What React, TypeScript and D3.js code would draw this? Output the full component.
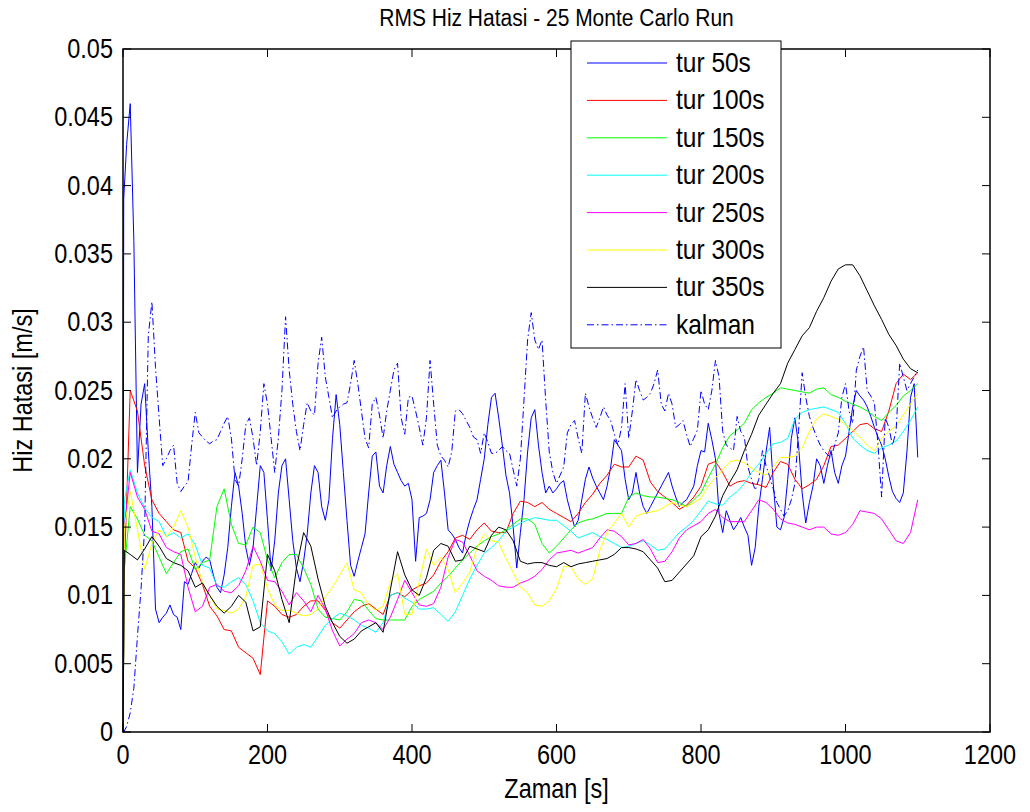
import React from 'react';
import * as d3 from 'd3';

// time grids (seconds)
const T_COARSE: number[] = [0, 2, ...d3.range(10, 1101, 10)];
const T_FINE: number[] = [0, 1, ...d3.range(5, 1101, 5)];

// values in units of 1e-3 m/s (converted below)
const tur50 = [0, 39,
  43, 46, 36, 19, 24, 25.5, 20.6, 16.5, 9, 8,
  8.4, 8.7, 9.3, 8.6, 8.4, 7.5, 11, 10.8, 11.6, 12.4,
  12, 12.5, 12.8, 12.6, 11.5, 10.6, 10.2, 11.5, 13.5, 16.5,
  19, 18, 16, 13.5, 12.2, 13.5, 16.5, 19.5, 19, 15.5,
  11.8, 14, 17.5, 19.5, 20, 17, 14, 12, 11, 12.5,
  14.5, 17.5, 19.5, 19, 16.5, 15.5, 17, 21.5, 24.7, 22.5,
  19, 15.5, 12.2, 11.4, 12.5, 13.5, 14.5, 17.5, 20.2, 20.5,
  18, 17.5, 19.5, 20.9, 19.6, 19, 18.4, 18, 18.2, 17,
  12.5, 15.7, 15.8, 16, 17, 19, 19.5, 19.9, 17.5, 14.8,
  14.5, 14.1, 13.5, 13.1, 14.5, 15.5, 16.3, 17, 18.5, 20,
  22.5, 24.5, 24.8, 23, 21, 18.8, 17.5, 15, 12, 14.6,
  17, 20.5, 23, 23.6, 21, 19, 17.5, 18, 17.5, 17.8,
  18.2, 18.4, 17, 16, 15, 15.5, 17, 18.5, 19.4, 18.6,
  18, 17.5, 17, 18, 19.4, 21.4, 21, 20.6, 18.5, 17,
  17.5, 19, 17.5, 16.5, 16, 16.5, 17, 17.5, 18, 18.5,
  19, 18, 17.2, 16.5, 16.8, 17, 17.5, 18, 19.5, 20.6,
  20.5, 22.6, 21.4, 20, 16, 14.6, 16.2, 15.5, 14.8, 15.2,
  15.7, 15, 14.4, 12.2, 13.5, 16.5, 18.5, 20.5, 22.3, 18.2,
  15, 14.8, 15.7, 18.5, 21.5, 23, 21, 17.5, 15.3, 16.8,
  18, 20, 19.5, 18.2, 19.5, 20.6, 19, 18.2, 19.5, 20.2,
  22, 23.8, 25, 24.6, 24.3, 23.8, 23.1, 22.3, 21.6, 21,
  20, 18.7, 17.6, 17.1, 16.8, 17.5, 20.5, 24.5, 25.5, 20.1];

const tur100 = [0, 12,
  25, 23.5, 19.5, 17, 16, 15.4, 14.8, 14.6, 12.5, 12,
  10.8, 9.2, 8.5, 7.5, 7.4, 6.2, 5.8, 5.4, 4.2, 9.6,
  9.2, 8.6, 8.4, 8.6, 9.2, 9.6, 9.6, 8.9, 8.0, 7.6,
  8.2, 8.8, 9.2, 9.4, 9.0, 8.6, 10.0, 10.2, 9.9, 10.4,
  10.7, 10.9, 11.5, 12.5, 13.2, 14.2, 14.4, 14.1, 14.8, 15.3,
  14.7, 14.6, 14.6, 16.0, 16.9, 16.8, 16.5, 16.8, 16.3, 16.0,
  15.7, 15.4, 16.0, 16.8, 17.4, 18.2, 18.8, 19.6, 19.4, 19.4,
  20.2, 19.9, 18.3, 17.6, 17.2, 16.8, 16.3, 16.6, 17.2, 18.0,
  19.6, 19.8, 19.0, 18.0, 18.3, 18.4, 18.2, 18.1, 17.9, 19.0,
  19.8, 19.6, 18.5, 17.8, 18.1, 18.5, 19.5, 20.9, 21.0, 21.5,
  22.0, 22.5, 22.6, 22.2, 22.0, 23.5, 25.5, 26.2, 25.8, 26.3];

const tur150 = [0, 12,
  16.5, 15.6, 14.4, 14.0, 12.8, 11.6, 12.4, 13.2, 13.4, 11.9,
  12.4, 12.6, 16.5, 17.8, 15.2, 13.8, 13.7, 15.0, 14.6, 12.6,
  11.3, 12.4, 13.0, 13.0, 12.0, 10.8, 9.0, 8.4, 8.3, 8.2,
  8.8, 9.7, 9.6, 8.9, 8.3, 8.2, 8.2, 8.2, 8.2, 9.2,
  9.7, 10.0, 10.3, 10.9, 11.4, 12.0, 12.6, 13.1, 13.6, 14.0,
  14.3, 14.5, 14.8, 15.2, 15.6, 15.6, 15.2, 13.8, 13.1, 13.6,
  14.2, 14.8, 15.3, 15.5, 15.6, 15.8, 16.0, 16.0, 16.0, 17.2,
  17.5, 17.3, 17.2, 17.2, 17.1, 17.0, 16.8, 16.5, 17.0, 17.5,
  18.6, 19.6, 20.8, 21.7, 22.1, 22.6, 23.6, 24.1, 24.5, 24.8,
  25.2, 25.1, 25.0, 24.9, 24.8, 25.1, 25.2, 24.7, 24.5, 24.2,
  24.0, 23.8, 23.5, 23.1, 22.8, 23.4, 23.9, 24.6, 25.0, 25.5];

const tur200 = [0, 17,
  19.2, 17.5, 16.4, 15.7, 15.4, 14.3, 14.6, 14.2, 14.5, 13.7,
  12.2, 12.0, 10.7, 10.6, 11.0, 11.3, 10.8, 9.6, 8.0, 7.4,
  7.2, 6.6, 5.7, 6.2, 6.4, 6.2, 7.0, 7.8, 8.3, 8.7,
  8.5, 8.2, 7.8, 7.6, 7.3, 8.0, 10.0, 10.2, 9.8, 9.5,
  9.0, 9.0, 9.1, 8.6, 8.1, 8.8, 10.0, 11.2, 12.2, 13.1,
  13.5, 14.0, 14.7, 15.0, 15.3, 15.5, 15.7, 15.6, 15.5, 15.5,
  15.1, 14.7, 14.2, 14.4, 14.6, 14.3, 14.1, 13.8, 13.5, 13.6,
  13.8, 14.0, 13.7, 13.3, 13.4, 14.0, 14.6, 15.0, 15.5, 16.2,
  16.9, 16.7, 16.6, 17.2, 17.6, 18.2, 19.0, 19.6, 20.4, 21.1,
  21.2, 21.5, 22.9, 23.4, 23.6, 23.7, 23.8, 23.6, 23.4, 22.6,
  21.5, 21.0, 20.6, 20.4, 20.8, 21.0, 21.3, 22.0, 22.8, 23.8];

const tur250 = [0, 15,
  19.0, 17.2, 16.3, 14.7, 14.5, 13.5, 13.2, 13.0, 10.6, 8.8,
  9.2, 10.6, 10.8, 10.3, 10.2, 10.7, 11.8, 13.6, 12.5, 11.1,
  11.0, 10.3, 9.3, 10.2, 9.6, 8.8, 10.0, 9.0, 7.4, 6.3,
  6.8, 7.2, 8.0, 8.2, 8.0, 7.5, 8.4, 9.7, 11.1, 10.2,
  9.3, 9.2, 9.4, 10.6, 12.8, 14.1, 13.9, 12.9, 11.8, 11.4,
  11.1, 10.7, 10.6, 10.6, 10.9, 11.1, 11.4, 11.9, 12.6, 13.1,
  13.2, 13.3, 13.1, 13.3, 13.5, 14.2, 14.8, 14.7, 14.3, 13.7,
  13.8, 14.1, 13.4, 12.4, 12.5, 13.2, 14.2, 14.8, 15.1, 15.4,
  16.0, 16.3, 15.7, 15.4, 15.4, 15.4, 16.2, 17.0, 16.8, 16.3,
  15.6, 15.3, 15.2, 15.0, 14.8, 15.0, 15.0, 14.5, 14.4, 14.6,
  15.2, 16.2, 16.1, 16.0, 15.6, 14.8, 14.0, 13.8, 14.6, 17.0];

const tur300 = [0, 15,
  17.6, 14.8, 11.9, 13.8, 14.8, 14.3, 15.0, 16.2, 15.0, 12.8,
  10.9, 10.0, 9.0, 8.9, 8.7, 9.0, 9.9, 12.2, 12.3, 10.5,
  9.3, 8.9, 8.9, 8.7, 8.5, 8.6, 9.0, 9.9, 10.6, 11.5,
  12.4, 10.4, 10.2, 9.3, 8.9, 9.2, 11.0, 11.6, 8.6, 8.6,
  11.0, 13.4, 12.2, 12.8, 11.9, 10.2, 10.9, 11.7, 13.5, 14.5,
  14.0, 13.9, 12.7, 11.7, 10.6, 10.2, 9.3, 9.2, 9.6, 10.5,
  12.1, 12.1, 11.2, 10.8, 11.2, 13.3, 14.6, 15.3, 16.0, 15.0,
  15.8, 16.0, 16.1, 16.2, 16.5, 16.8, 16.6, 16.5, 16.8, 17.1,
  18.0, 18.6, 19.2, 19.8, 19.9, 19.7, 19.3, 19.0, 18.8, 19.4,
  20.1, 20.1, 20.2, 20.8, 22.0, 22.9, 23.3, 23.1, 22.9, 22.5,
  22.1, 21.6, 21.0, 20.6, 21.5, 22.0, 22.4, 23.2, 24.0, 24.8];

const tur350 = [0, 13.3,
  13.0, 12.6, 13.4, 14.3, 13.6, 12.7, 12.4, 12.2, 11.8, 10.6,
  10.9, 10.0, 9.2, 8.7, 9.2, 10.0, 9.5, 7.4, 7.7, 13.0,
  11.8, 9.7, 8.0, 12.0, 14.6, 13.6, 11.2, 9.2, 8.0, 7.0,
  6.5, 6.8, 7.4, 7.7, 8.0, 7.3, 10.4, 13.2, 11.5, 10.4,
  10.0, 11.3, 13.3, 13.8, 13.6, 12.5, 12.6, 13.6, 13.4, 13.2,
  14.4, 15.0, 14.8, 14.0, 12.5, 12.3, 12.4, 12.4, 12.2, 12.1,
  12.4, 12.1, 12.3, 12.4, 12.5, 12.6, 12.7, 13.0, 13.5, 13.5,
  13.4, 13.2, 12.6, 12.0, 11.0, 11.1, 11.7, 12.3, 12.9, 14.3,
  14.8, 15.8, 17.3, 18.3, 19.2, 20.6, 21.8, 23.2, 24.0, 24.8,
  25.5, 27.0, 28.0, 29.0, 29.6, 30.8, 31.8, 33.0, 33.9, 34.2,
  34.2, 33.4, 32.3, 31.2, 30.2, 29.1, 28.3, 27.3, 26.6, 26.3];

const kalman = [0, 0,
  0.4, 1.4, 3.2, 7, 10.5, 15, 29, 31.5, 26.7, 23,
  19.5, 20, 20.6, 21, 18.2, 17.6, 18, 18.3, 21, 23.4,
  21.9, 21.6, 21.3, 21.1, 21.3, 21.4, 22, 22.6, 23.1, 21.5,
  18.5, 18, 20, 22.5, 23, 21.5, 19.5, 22, 25.5, 24,
  21.5, 19, 21.5, 25, 30.4, 26.5, 24, 22, 20.6, 22.5,
  24.1, 23.5, 23.2, 27, 28.9, 26, 24.5, 23, 23.5, 23.8,
  24, 24.1, 25.5, 27.2, 25.5, 23.5, 21.5, 20.8, 24, 24.5,
  23.2, 21.5, 23.5, 25, 26.5, 27, 23, 21.8, 24.5, 24.6,
  23.5, 22.3, 21, 23, 27.2, 24, 21, 20.2, 19.9, 19.4,
  20.5, 23.5, 23.6, 23.3, 22.8, 22.3, 21.6, 21.4, 20.4, 21.9,
  21.2, 20.4, 20.4, 20.6, 20.9, 20.6, 20.4, 19.2, 18, 20,
  24.3, 28.7, 30.7, 28.7, 28, 28.7, 24.3, 20.5, 19, 18.2,
  18.8, 19.4, 21.9, 22.5, 22.8, 21.5, 20.4, 24.8, 23.8, 23,
  22.3, 23, 23.8, 23.2, 22.8, 21.8, 21, 22.3, 25.5, 21.5,
  23.5, 25.8, 25, 24.3, 24.5, 24.8, 25.5, 26.5, 24, 23.5,
  24.8, 24, 22.3, 22.5, 22.8, 21.8, 20.9, 21.5, 22.1, 25,
  24, 23.6, 25, 27.2, 26, 22, 21, 20.8, 20.6, 23.1,
  22, 21.6, 19.4, 18.5, 17.7, 18.5, 20.6, 19.5, 18.7, 17.8,
  16.8, 16.3, 15.8, 16.2, 17, 18.2, 22, 26.3, 24.5, 23.1,
  22.3, 21.6, 21, 20.6, 20.3, 20.1, 21, 21.9, 24.5, 25.5,
  23.5, 22.6, 26.5, 27.5, 28.2, 25, 24.6, 24.1, 21, 17.2,
  23, 22.3, 21, 22, 27, 26, 25, 25.5, 26, 26.5];

const SERIES_NAMES = ['tur 50s', 'tur 100s', 'tur 150s', 'tur 200s', 'tur 250s', 'tur 300s', 'tur 350s', 'kalman'];
const SERIES_COLORS = ['#0000ff', '#ff0000', '#00ff00', '#00ffff', '#ff00ff', '#ffff00', '#000000', '#0000ff'];
const SERIES_VALUES = [tur50, tur100, tur150, tur200, tur250, tur300, tur350, kalman];
const SERIES_TIMES = [T_FINE, T_COARSE, T_COARSE, T_COARSE, T_COARSE, T_COARSE, T_COARSE, T_FINE];
const SERIES_DASH = ['', '', '', '', '', '', '', '7,3,1.5,3'];

const X_TICKS = [0, 200, 400, 600, 800, 1000, 1200];
const Y_TICKS = [0, 0.005, 0.01, 0.015, 0.02, 0.025, 0.03, 0.035, 0.04, 0.045, 0.05];

const TITLE = 'RMS Hiz Hatasi - 25 Monte Carlo Run';
const X_LABEL = 'Zaman [s]';
const Y_LABEL = 'Hiz Hatasi [m/s]';

const W = 1030, H = 812;
const PL = 123, PR = 990, PT = 49, PB = 732;
const FONT = 'Arial, "Liberation Sans", Helvetica, sans-serif';
const FS = 23.5;
const SY = 1.15;

function SText({ x, y, anchor = 'start', children, rotate = 0, size = FS }: any) {
  return (
    <g transform={`translate(${x},${y}) rotate(${rotate}) scale(1,${SY})`}>
      <text x={0} y={0} textAnchor={anchor} fontFamily={FONT} fontSize={size} fill="#000">{children}</text>
    </g>
  );
}

export default function App() {
  const x = d3.scaleLinear().domain([0, 1200]).range([PL, PR]);
  const y = d3.scaleLinear().domain([0, 0.05]).range([PB, PT]);
  const line = d3.line<[number, number]>().x(d => x(d[0])).y(d => y(d[1]));

  const paths = SERIES_VALUES.map((vals, i) => {
    const ts = SERIES_TIMES[i];
    const pts: [number, number][] = vals.map((v, j) => [ts[j], v / 1000]);
    return line(pts) || '';
  });

  const tickLen = 8;
  const legX0 = 571, legY0 = 41, legW = 210, legH = 307;
  const rowY0 = 63, rowDy = 37.4;

  return (
    <svg width={W} height={H} style={{ position: 'absolute', left: 0, top: 0, background: '#fff' }}>
      <rect x={0} y={0} width={W} height={H} fill="#fff" />
      <g>
        {paths.map((d, i) => (
          <path key={i} d={d} fill="none" stroke={SERIES_COLORS[i]} strokeWidth={1}
            strokeDasharray={SERIES_DASH[i] || undefined} strokeLinejoin="round" />
        ))}
      </g>
      <rect x={PL} y={PT} width={PR - PL} height={PB - PT} fill="none" stroke="#000" strokeWidth={1.5} />
      {X_TICKS.map(t => (
        <g key={'xt' + t}>
          <line x1={x(t)} x2={x(t)} y1={PB} y2={PB - tickLen} stroke="#000" strokeWidth={1} />
          <line x1={x(t)} x2={x(t)} y1={PT} y2={PT + tickLen} stroke="#000" strokeWidth={1} />
          <SText x={x(t)} y={PB + 32} anchor="middle">{String(t)}</SText>
        </g>
      ))}
      {Y_TICKS.map(t => (
        <g key={'yt' + t}>
          <line x1={PL} x2={PL + tickLen} y1={y(t)} y2={y(t)} stroke="#000" strokeWidth={1} />
          <line x1={PR} x2={PR - tickLen} y1={y(t)} y2={y(t)} stroke="#000" strokeWidth={1} />
          <SText x={PL - 10} y={y(t) + 9} anchor="end">{String(+t.toFixed(3))}</SText>
        </g>
      ))}
      <SText x={(PL + PR) / 2} y={26} anchor="middle" size={21}>{TITLE}</SText>
      <SText x={(PL + PR) / 2} y={798} anchor="middle">{X_LABEL}</SText>
      <SText x={32} y={(PT + PB) / 2} anchor="middle" rotate={-90}>{Y_LABEL}</SText>
      <rect x={legX0} y={legY0} width={legW} height={legH} fill="#fff" stroke="#000" strokeWidth={1} />
      {SERIES_NAMES.map((n, i) => (
        <g key={'lg' + i}>
          <line x1={587} x2={667} y1={rowY0 + i * rowDy} y2={rowY0 + i * rowDy}
            stroke={SERIES_COLORS[i]} strokeWidth={1} strokeDasharray={SERIES_DASH[i] || undefined} />
          <SText x={676} y={rowY0 + i * rowDy + 9} size={24.5}>{n}</SText>
        </g>
      ))}
    </svg>
  );
}
